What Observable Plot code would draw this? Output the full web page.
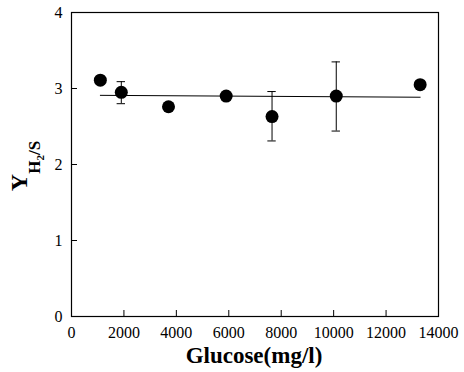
<!DOCTYPE html>
<html><head><meta charset="utf-8">
<script src="https://cdn.jsdelivr.net/npm/d3@7"></script>
<script src="https://cdn.jsdelivr.net/npm/@observablehq/plot@0.6"></script>
<style>
body{margin:0;background:#fff}
svg text{font-family:"Liberation Serif",serif !important}
</style>
</head><body><div id="chart"></div>
<script>
const glucose = [1100, 1900, 3700, 5900, 7650, 10100, 13300];
const yieldH2S = [3.11, 2.95, 2.76, 2.90, 2.63, 2.90, 3.05];
const errHi = [null, 3.09, null, null, 2.96, 3.35, null];
const errLo = [null, 2.80, null, null, 2.31, 2.44, null];
const fitX = [1100, 13300];
const fitY = [2.91, 2.885];
const xTicks = [0, 2000, 4000, 6000, 8000, 10000, 12000, 14000];
const yTicks = [0, 1, 2, 3, 4];

const pts = glucose.map((g, i) => ({x: g, y: yieldH2S[i], hi: errHi[i], lo: errLo[i]}));
const errs = pts.filter(d => d.hi != null);
const fit = fitX.map((x, i) => ({x, y: fitY[i]}));

const plot = Plot.plot({
  width: 464, height: 372,
  marginLeft: 71, marginRight: 26, marginTop: 12, marginBottom: 56,
  style: {fontFamily: "Liberation Serif", fontSize: "16px", color: "black", background: "white"},
  x: {domain: [0, 14000]},
  y: {domain: [0, 4]},
  marks: [
    Plot.frame({stroke: "black", strokeWidth: 1.2}),
    Plot.axisX({ticks: xTicks, tickSize: -6, tickPadding: 16, label: null, tickFormat: d => String(d), fontSize: 16}),
    Plot.axisY({ticks: yTicks, tickSize: -6, tickPadding: 15, label: null, tickFormat: d => String(d), fontSize: 16}),
    Plot.line(fit, {x: "x", y: "y", stroke: "black", strokeWidth: 1}),
    Plot.ruleX(errs, {x: "x", y1: "lo", y2: "hi", stroke: "black", strokeWidth: 1}),
    Plot.ruleY(errs, {y: "hi", x1: d => d.x - 160, x2: d => d.x + 160, stroke: "black", strokeWidth: 1}),
    Plot.ruleY(errs, {y: "lo", x1: d => d.x - 160, x2: d => d.x + 160, stroke: "black", strokeWidth: 1}),
    Plot.dot(pts, {x: "x", y: "y", r: 6.5, fill: "black"})
  ]
});
document.getElementById("chart").appendChild(plot);

const svg = d3.select(plot);
svg.append("text")
  .attr("x", 254).attr("y", 363)
  .attr("text-anchor", "middle")
  .attr("font-family", "Liberation Serif").attr("font-weight", "bold").attr("font-size", 23)
  .text("Glucose(mg/l)");
const yl = svg.append("text")
  .attr("transform", "translate(27,166) rotate(-90)")
  .attr("text-anchor", "middle")
  .attr("font-family", "Liberation Serif").attr("font-weight", "bold").attr("font-size", 24);
yl.append("tspan").text("Y");
const sub = yl.append("tspan").attr("font-size", 17).attr("dy", 13);
sub.append("tspan").text("H");
sub.append("tspan").attr("font-size", 11).attr("dy", 4).text("2");
sub.append("tspan").attr("dy", -4).text("/S");
</script>
</body></html>
